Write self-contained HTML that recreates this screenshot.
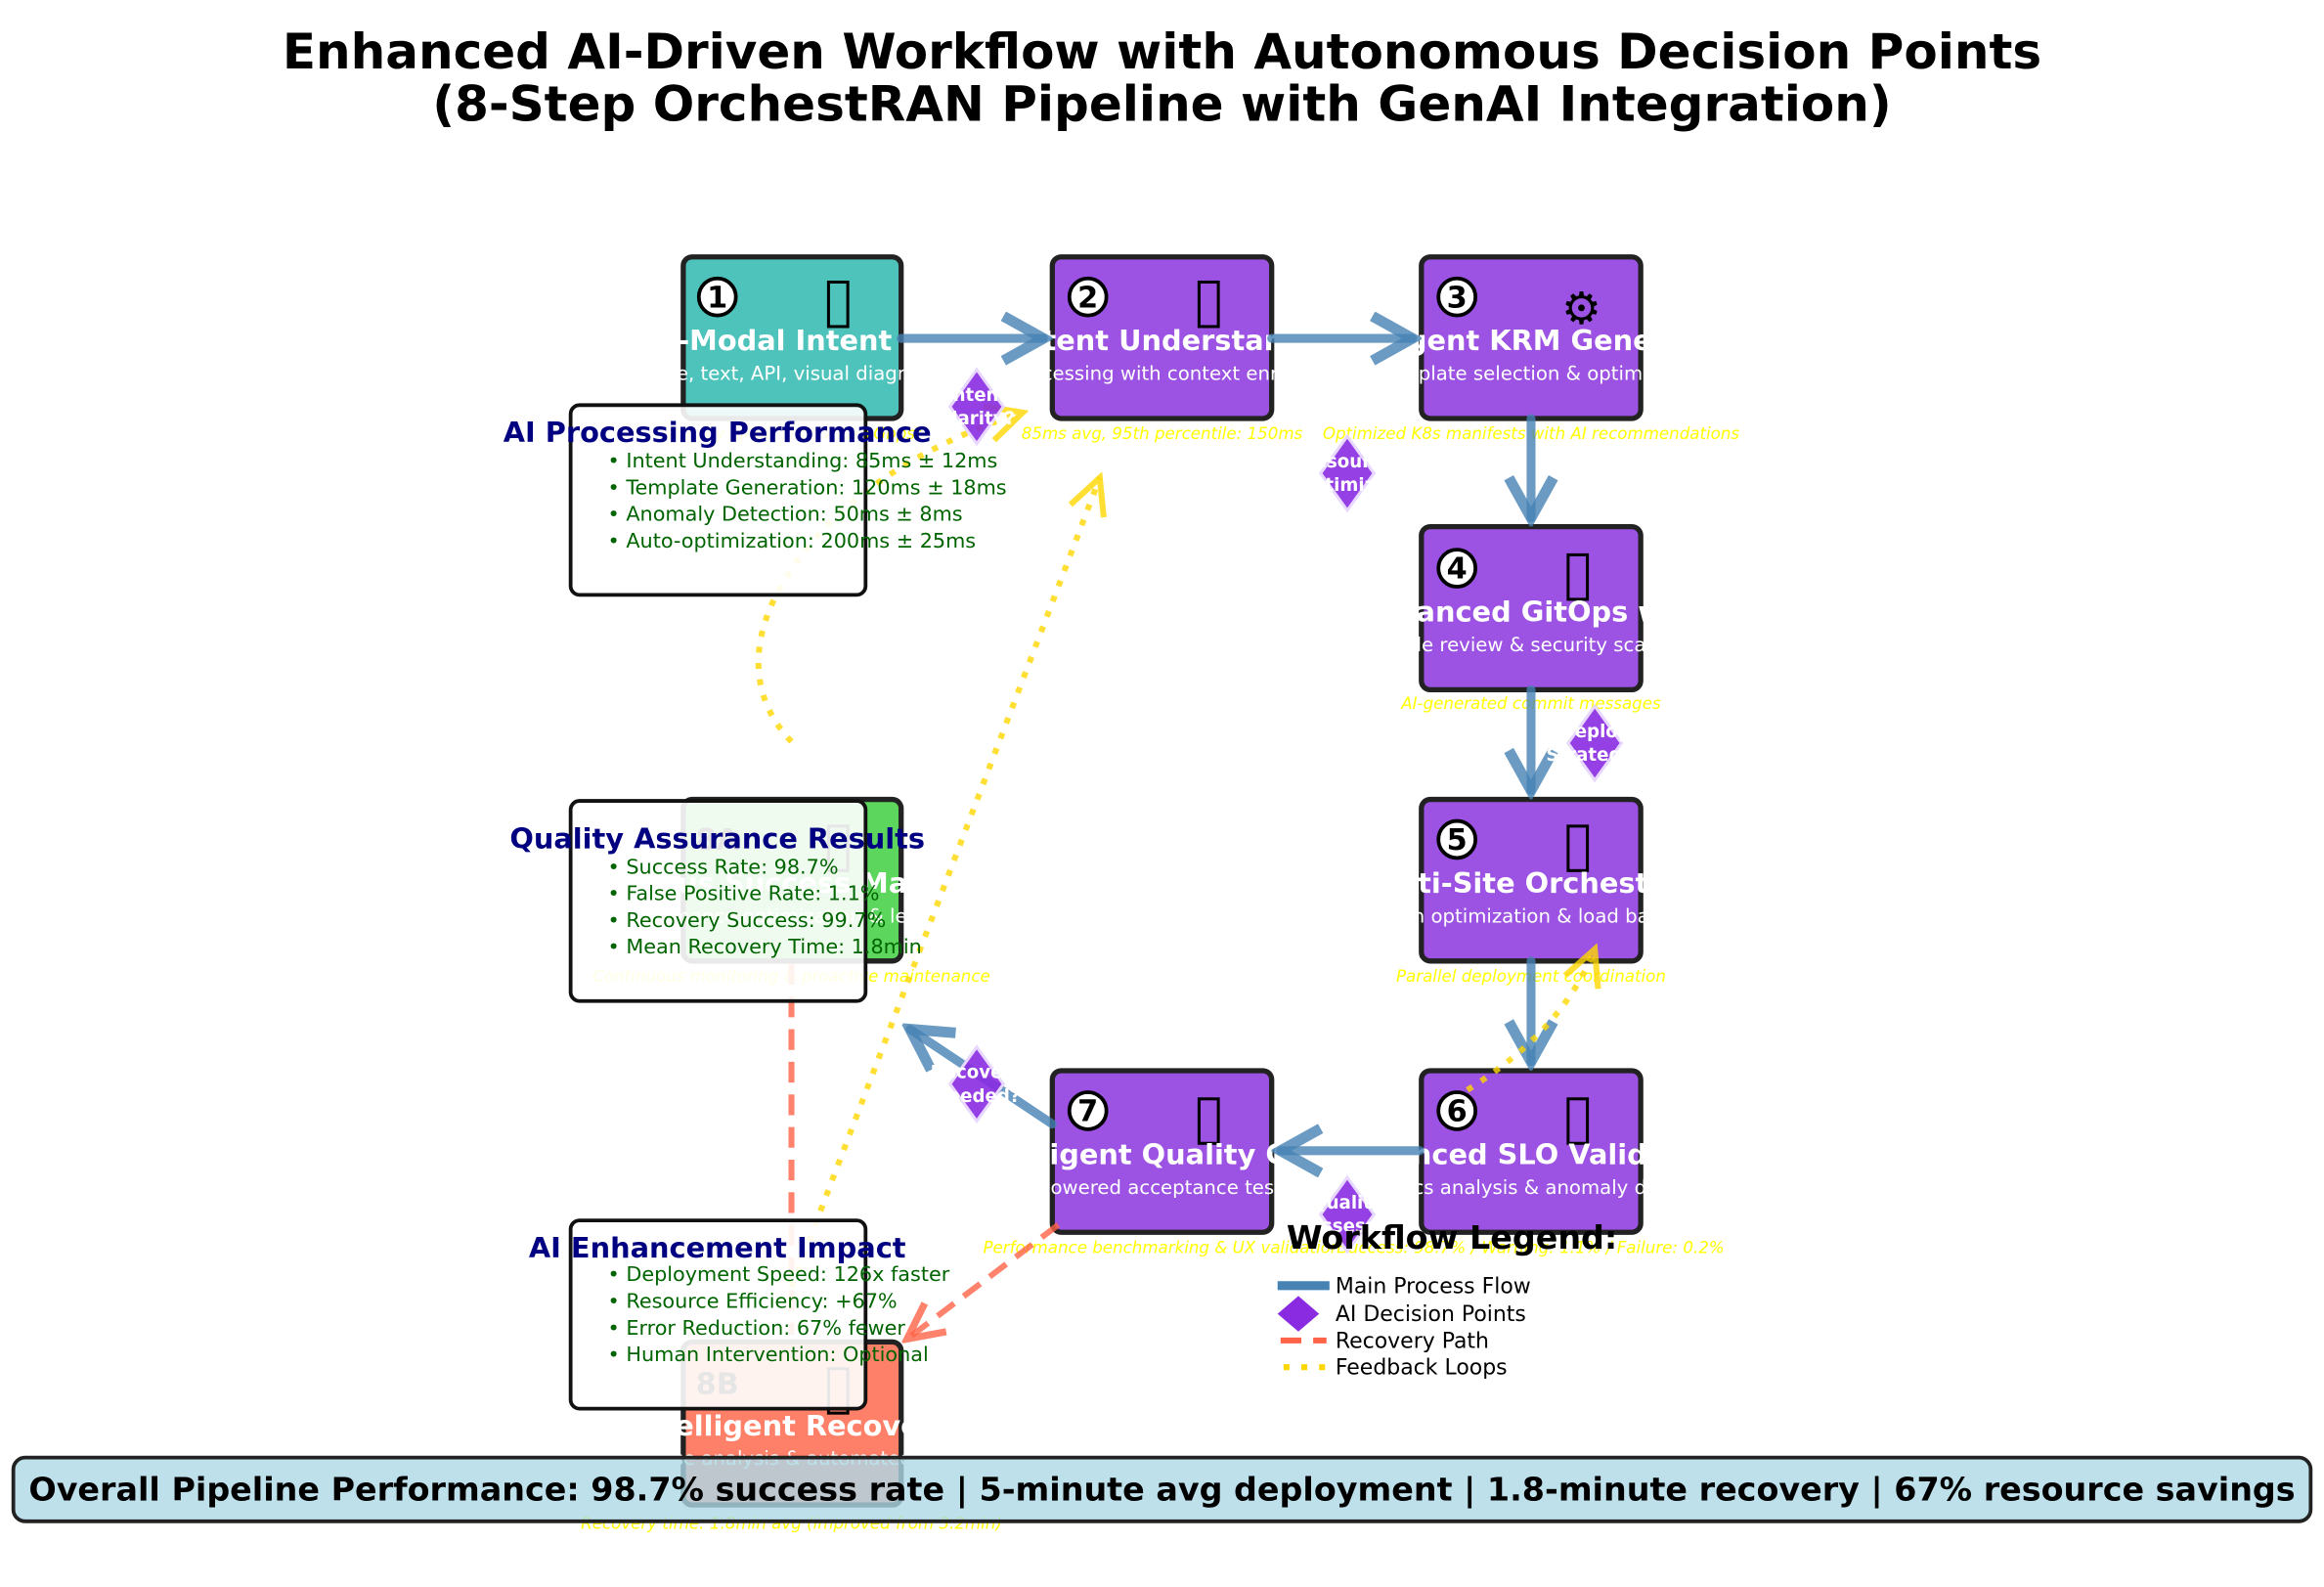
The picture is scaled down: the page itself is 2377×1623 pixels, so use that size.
<!DOCTYPE html>
<html><head><meta charset="utf-8"><style>
html,body{margin:0;padding:0;background:#fff;}
svg{display:block;}
text{font-family:"DejaVu Sans","Liberation Sans",sans-serif;}
</style></head><body>
<svg width="2377" height="1623" viewBox="0 0 1568 1070" xmlns="http://www.w3.org/2000/svg">
<defs>
<marker id="ab" markerWidth="6" markerHeight="6" refX="5" refY="3" orient="auto" markerUnits="strokeWidth"><path d="M0.5,0.5 L5,3 L0.5,5.5" fill="none" stroke="#4682b4" stroke-width="1.2" stroke-opacity="0.8"/></marker>
<marker id="ar" markerWidth="8" markerHeight="8" refX="7" refY="4" orient="auto" markerUnits="strokeWidth"><path d="M1,1 L7,4 L1,7" fill="none" stroke="#ff6347" stroke-width="1.2" stroke-opacity="0.8"/></marker>
<marker id="ay" markerWidth="8" markerHeight="8" refX="7" refY="4" orient="auto" markerUnits="strokeWidth"><path d="M1,1 L7,4 L1,7" fill="none" stroke="#ffd700" stroke-width="1" stroke-opacity="0.8"/></marker>
</defs>
<rect width="1568" height="1070" fill="#fff"/>
<text x="784" y="46" font-size="33" font-weight="bold" text-anchor="middle">Enhanced AI-Driven Workflow with Autonomous Decision Points</text>
<text x="784" y="81" font-size="33" font-weight="bold" text-anchor="middle">(8-Step OrchestRAN Pipeline with GenAI Integration)</text>

<g stroke="#222" stroke-width="3.5">
<rect x="461" y="173" width="147" height="109" rx="6" fill="#4ec3bb"/>
<rect x="710" y="173" width="148" height="109" rx="6" fill="#9c52e2"/>
<rect x="959" y="173" width="148" height="109" rx="6" fill="#9c52e2"/>
<rect x="959" y="355" width="148" height="110" rx="6" fill="#9c52e2"/>
<rect x="959" y="539" width="148" height="109" rx="6" fill="#9c52e2"/>
<rect x="959" y="722" width="148" height="109" rx="6" fill="#9c52e2"/>
<rect x="710" y="722" width="148" height="109" rx="6" fill="#9c52e2"/>
<rect x="461" y="539" width="147" height="109" rx="6" fill="#5cd65c"/>
<rect x="461" y="905" width="147" height="110" rx="6" fill="#ff8068"/>
</g>
<g font-size="20" font-weight="bold" text-anchor="middle">
<g stroke="#000" stroke-width="2.5" fill="#fff">
<circle cx="484" cy="200" r="12.5"/><circle cx="734" cy="200" r="12.5"/><circle cx="983" cy="200" r="12.5"/>
<circle cx="983" cy="383" r="12.5"/><circle cx="983" cy="566" r="12.5"/><circle cx="983" cy="749" r="12.5"/><circle cx="734" cy="749" r="12.5"/>
</g>
<text x="484" y="207">1</text><text x="734" y="207">2</text><text x="983" y="207">3</text>
<text x="983" y="390">4</text><text x="983" y="573">5</text><text x="983" y="756">6</text><text x="734" y="756">7</text>
<text x="484" y="573">8A</text><text x="484" y="940">8B</text>
</g>
<g fill="none" stroke="#000" stroke-width="2">
<rect x="559" y="190" width="13" height="30"/><rect x="809" y="190" width="13" height="30"/>
<rect x="1058" y="374" width="13" height="30"/><rect x="1058" y="557" width="13" height="30"/>
<rect x="1058" y="741" width="13" height="30"/><rect x="809" y="741" width="13" height="30"/>
<rect x="559" y="557" width="13" height="30"/><rect x="559" y="923" width="13" height="30"/>
</g>
<text x="1067" y="218" font-size="30" text-anchor="middle">⚙</text>
<g fill="#fff" text-anchor="middle">
<g font-size="19" font-weight="bold">
<text x="534" y="236">Multi-Modal Intent Input</text>
<text x="784" y="236">AI Intent Understanding</text>
<text x="1033" y="236">Intelligent KRM Generation</text>
<text x="1033" y="419">AI-Enhanced GitOps with AI</text>
<text x="1033" y="602">AI Multi-Site Orchestration</text>
<text x="1033" y="785">Enhanced SLO Validation</text>
<text x="784" y="785">Intelligent Quality Gates</text>
<text x="534" y="602">Autonomous Success Management</text>
<text x="534" y="968">Intelligent Recovery</text>
</g>
<g font-size="13">
<text x="534" y="256">Voice, text, API, visual diagrams</text>
<text x="784" y="256">NLP processing with context enrichment</text>
<text x="1033" y="256">AI template selection &amp; optimization</text>
<text x="1033" y="439">AI code review &amp; security scanning</text>
<text x="1033" y="622">Location optimization &amp; load balancing</text>
<text x="1033" y="805">AI metrics analysis &amp; anomaly detection</text>
<text x="784" y="805">AI-powered acceptance testing</text>
<text x="534" y="622">Performance optimization &amp; learning</text>
<text x="534" y="988">Root cause analysis &amp; automated rollback</text>
</g>
</g>
<g fill="#ffff00" font-size="11" font-style="italic" text-anchor="middle">
<text x="534" y="296">"Deploy eMBB slice with 1Gbps"</text>
<text x="784" y="296">85ms avg, 95th percentile: 150ms</text>
<text x="1033" y="296">Optimized K8s manifests with AI recommendations</text>
<text x="1033" y="478">AI-generated commit messages</text>
<text x="1033" y="662">Parallel deployment coordination</text>
<text x="534" y="662">Continuous monitoring &amp; proactive maintenance</text>
<text x="784" y="845">Performance benchmarking &amp; UX validation</text>
<text x="1033" y="845">Success: 98.7% / Warning: 1.1% / Failure: 0.2%</text>
<text x="534" y="1031">Recovery time: 1.8min avg (improved from 3.2min)</text>
</g>
<g stroke="#4682b4" stroke-opacity="0.8" stroke-width="6" fill="none" stroke-linecap="round" marker-end="url(#ab)">
<line x1="608" y1="228" x2="704" y2="228"/>
<line x1="858" y1="228" x2="953" y2="228"/>
<line x1="1033" y1="282" x2="1033" y2="349"/>
<line x1="1033" y1="465" x2="1033" y2="533"/>
<line x1="1033" y1="648" x2="1033" y2="716"/>
<line x1="958" y1="776" x2="864" y2="776"/>
<line x1="710" y1="758" x2="614" y2="694"/>
</g>
<g stroke="#ff6347" stroke-opacity="0.8" stroke-width="4" fill="none" stroke-dasharray="14,8">
<line x1="534" y1="650" x2="534" y2="900"/>
<line x1="714" y1="826" x2="612" y2="903" marker-end="url(#ar)"/>
</g>
<g stroke="#ffd700" stroke-opacity="0.8" stroke-width="4" fill="none" stroke-dasharray="4,7">
<path d="M534,500 C505,470 505,430 530,390 C560,340 620,300 690,278" marker-end="url(#ay)"/>
<path d="M534,868 L742,322" marker-end="url(#ay)"/>
<path d="M990,735 C1030,710 1060,680 1076,640" marker-end="url(#ay)"/>
</g>
<g fill="#8a2be2" fill-opacity="0.9" stroke="#e8d8ff" stroke-width="2">
<path d="M659,249 L677,274 L659,299 L641,274Z"/>
<path d="M909,294 L927,319 L909,344 L891,319Z"/>
<path d="M1076,476 L1094,501 L1076,526 L1058,501Z"/>
<path d="M659,706 L677,731 L659,756 L641,731Z"/>
<path d="M909,794 L927,819 L909,844 L891,819Z"/>
</g>
<g fill="#fff" font-size="12" font-weight="bold" text-anchor="middle">
<text x="659" y="270">Intent</text><text x="659" y="286">Clarity?</text>
<text x="909" y="315">Resource</text><text x="909" y="331">Optimize?</text>
<text x="1076" y="497">Deploy</text><text x="1076" y="513">Strategy?</text>
<text x="659" y="727">Recovery</text><text x="659" y="743">Needed?</text>
<text x="909" y="815">Quality</text><text x="909" y="831">Assess?</text>
</g>
<g fill="#fff" fill-opacity="0.9" stroke="#111" stroke-width="2.5">
<rect x="385" y="273" width="199" height="128" rx="6"/>
<rect x="385" y="540" width="199" height="135" rx="6"/>
<rect x="385" y="823" width="199" height="127" rx="6"/>
</g>
<g font-size="19" font-weight="bold" fill="#000080" text-anchor="middle">
<text x="484" y="298">AI Processing Performance</text>
<text x="484" y="572">Quality Assurance Results</text>
<text x="484" y="848">AI Enhancement Impact</text>
</g>
<g font-size="13.7" fill="#006400">
<text x="410" y="315">• Intent Understanding: 85ms ± 12ms</text>
<text x="410" y="333">• Template Generation: 120ms ± 18ms</text>
<text x="410" y="351">• Anomaly Detection: 50ms ± 8ms</text>
<text x="410" y="369">• Auto-optimization: 200ms ± 25ms</text>
<text x="410" y="589">• Success Rate: 98.7%</text>
<text x="410" y="607">• False Positive Rate: 1.1%</text>
<text x="410" y="625">• Recovery Success: 99.7%</text>
<text x="410" y="643">• Mean Recovery Time: 1.8min</text>
<text x="410" y="864">• Deployment Speed: 126x faster</text>
<text x="410" y="882">• Resource Efficiency: +67%</text>
<text x="410" y="900">• Error Reduction: 67% fewer</text>
<text x="410" y="918">• Human Intervention: Optional</text>
</g>
<text x="868" y="842" font-size="22" font-weight="bold">Workflow Legend:</text>
<line x1="862" y1="867" x2="897" y2="867" stroke="#4682b4" stroke-width="6"/>
<path d="M876,874 L890,886 L876,898 L862,886Z" fill="#8a2be2"/>
<line x1="864" y1="904" x2="895" y2="904" stroke="#ff6347" stroke-width="4" stroke-dasharray="14,8"/>
<line x1="866" y1="922" x2="895" y2="922" stroke="#ffd700" stroke-width="4" stroke-dasharray="4,8"/>
<g font-size="14.5">
<text x="901" y="872">Main Process Flow</text>
<text x="901" y="891">AI Decision Points</text>
<text x="901" y="909">Recovery Path</text>
<text x="901" y="927">Feedback Loops</text>
</g>
<rect x="9" y="983" width="1550" height="43" rx="8" fill="#add8e6" fill-opacity="0.8" stroke="#222" stroke-width="2.5"/>
<text x="784" y="1012" font-size="22" font-weight="bold" text-anchor="middle">Overall Pipeline Performance: 98.7% success rate | 5-minute avg deployment | 1.8-minute recovery | 67% resource savings</text>
</svg>
</body></html>
